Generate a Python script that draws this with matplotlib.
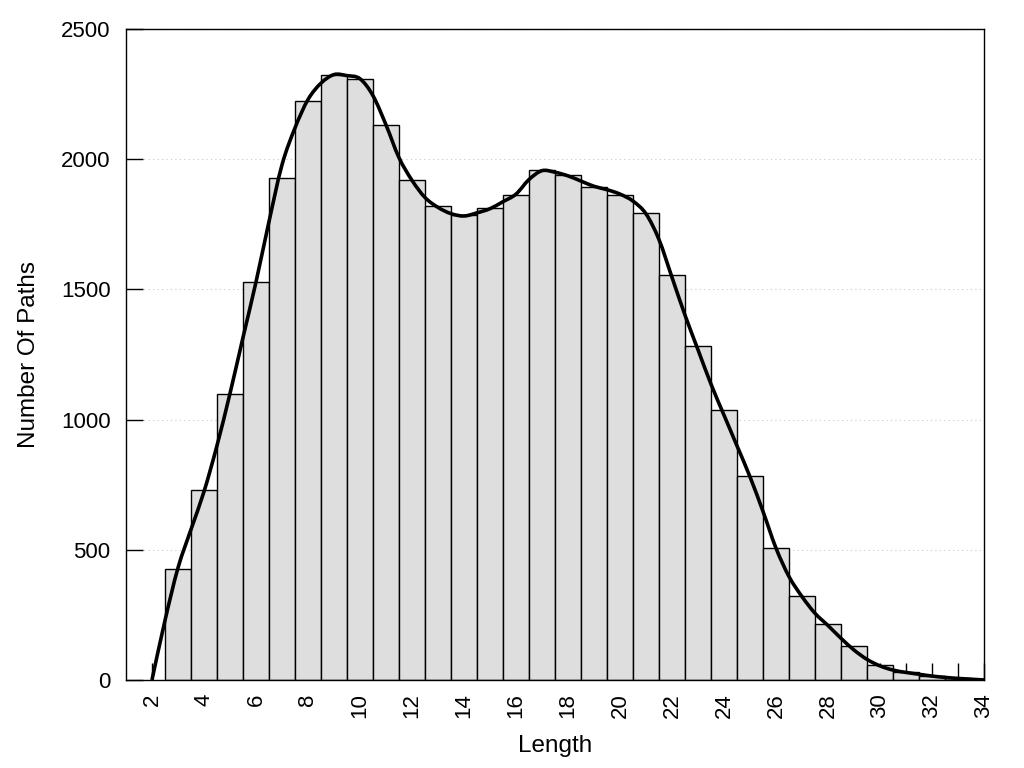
import matplotlib
matplotlib.use('Agg')
import matplotlib.pyplot as plt
from matplotlib.path import Path
from matplotlib.patches import PathPatch
import numpy as np

plt.rcParams['font.family'] = ['Liberation Sans', 'DejaVu Sans']

# histogram bars (path length -> count)
lengths = [3, 4, 5, 6, 7, 8, 9, 10, 11, 12, 13, 14, 15, 16, 17, 18, 19, 20,
           21, 22, 23, 24, 25, 26, 27, 28, 29, 30, 31, 32, 33, 34]
counts = [427, 730, 1100, 1528, 1929, 2224, 2324, 2309, 2132, 1919, 1819, 1785,
          1814, 1864, 1957, 1940, 1895, 1864, 1792, 1554, 1282, 1036, 782, 506,
          323, 215, 129, 57, 30, 15, 7, 2]

curve_x = [2, 2.5, 3, 3.5, 4, 4.5, 5, 5.5, 6, 6.5, 7, 7.5, 8, 8.5, 9, 9.5, 10,
           10.5, 11, 11.5, 12, 12.5, 13, 13.5, 14, 14.5, 15, 15.5, 16, 16.5, 17,
           17.5, 18, 18.5, 19, 19.5, 20, 20.5, 21, 21.5, 22, 22.5, 23, 23.5, 24,
           24.5, 25, 25.5, 26, 26.5, 27, 27.5, 28, 28.5, 29, 29.5, 30, 30.5, 31,
           31.5, 32, 32.5, 33, 33.5, 34]
curve_y = [0, 228, 430, 578, 723, 900, 1100, 1315, 1528, 1760, 1978, 2120, 2229,
           2292, 2325, 2321, 2309, 2244, 2132, 2006, 1919, 1853, 1815, 1791,
           1782, 1794, 1810, 1837, 1866, 1922, 1956, 1950, 1936, 1916, 1896,
           1883, 1866, 1839, 1790, 1691, 1546, 1401, 1268, 1136, 1017, 899, 780,
           647, 506, 397, 320, 256, 209, 160, 115, 79, 54, 38, 29, 22, 15, 10,
           6, 3, 0]

yticks = [0, 500, 1000, 1500, 2000, 2500]
xticks = list(range(2, 35))
xlabels = [str(t) if t % 2 == 0 else '' for t in xticks]


def smooth_path(xs, ys):
    # catmull-rom through the points, drawn as bezier segments
    p = np.column_stack([xs, ys]).astype(float)
    p = np.vstack([p[0], p, p[-1]])
    verts = [p[1]]
    codes = [Path.MOVETO]
    for i in range(1, len(p) - 2):
        c1 = p[i] + (p[i + 1] - p[i - 1]) / 6.0
        c2 = p[i + 1] - (p[i + 2] - p[i]) / 6.0
        verts += [c1, c2, p[i + 1]]
        codes += [Path.CURVE4] * 3
    return Path(verts, codes)


fig = plt.figure(figsize=(10.24, 7.68), dpi=100)
ax = fig.add_axes([0.123, 0.1146, 0.838, 0.8476])
ax.set_axisbelow(True)

ax.bar(lengths, counts, width=1.0, color='#dedede', edgecolor='black',
       linewidth=1.0, zorder=2)
ax.add_patch(PathPatch(smooth_path(curve_x, curve_y), facecolor='none',
                       edgecolor='black', linewidth=2.6, zorder=3,
                       capstyle='butt'))

ax.set_xlim(1, 34)
ax.set_ylim(0, 2500)
ax.set_yticks(yticks)
ax.set_xticks(xticks)
ax.set_xticklabels(xlabels, rotation=90)
ax.yaxis.grid(True, linestyle=(0, (1, 3)), color='#c8c8c8', linewidth=0.8)
ax.tick_params(direction='in', length=12, width=1, labelsize=16)
ax.tick_params(axis='y', pad=11)
ax.tick_params(axis='x', pad=9.5)
for s in ax.spines.values():
    s.set_linewidth(1.0)

ax.set_xlabel('Length', fontsize=17.5, labelpad=12)
ax.set_ylabel('Number Of Paths', fontsize=17.5, labelpad=15)

fig.savefig('out.png', dpi=100)
